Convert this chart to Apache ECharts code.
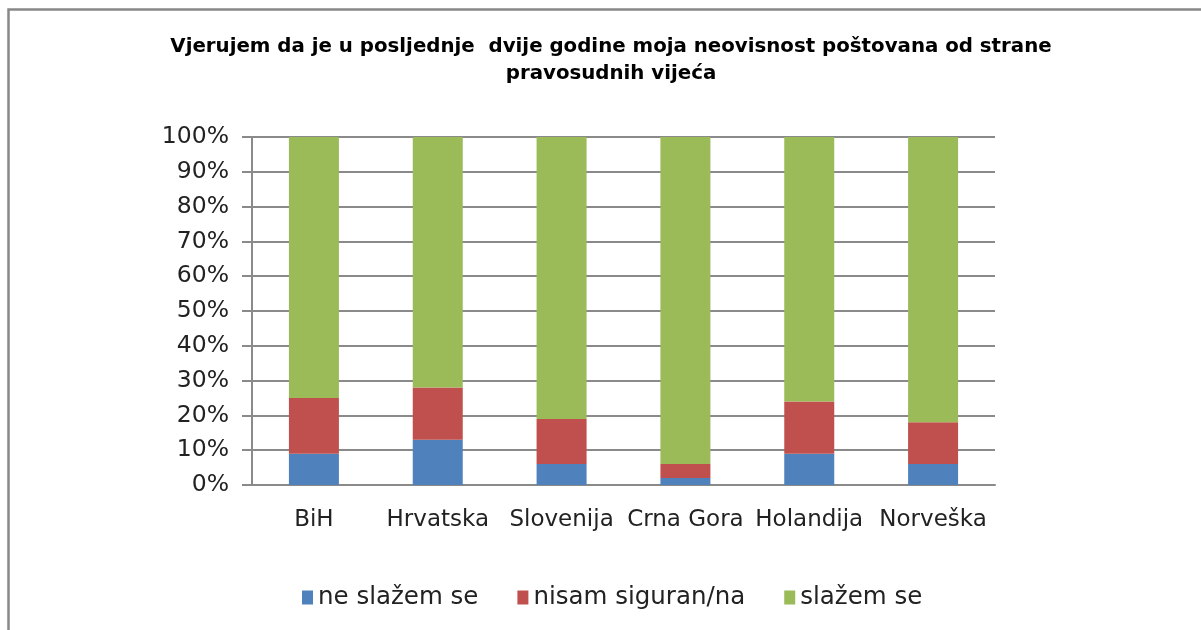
<!DOCTYPE html>
<html>
<head>
<meta charset="utf-8">
<title>Neovisnost poštovana od strane pravosudnih vijeća</title>
<script src="https://cdn.jsdelivr.net/npm/echarts@6/dist/echarts.min.js"></script>
<style>
  html, body { margin: 0; padding: 0; background: #fff; }
  #chart { width: 1201px; height: 630px; }
</style>
</head>
<body>
<div id="chart"></div>
<script>
// podaci očitani sa slike (postoci)
var countries = ['BiH', 'Hrvatska', 'Slovenija', 'Crna Gora', 'Holandija', 'Norveška']
var neSlazem = [9, 13, 6, 2, 9, 6]
var nisamSiguran = [16, 15, 13, 4, 15, 12]
var slazem = [75, 72, 81, 94, 76, 82]
var seriesNames = ['ne slažem se', 'nisam siguran/na', 'slažem se']
var colors = ['#4F81BD', '#C0504D', '#9BBB59']

var chart = echarts.init(document.getElementById('chart'))

var font = 'DejaVu Sans'
var gridColor = '#8a8a8a'

// jedan stupac po seriji, složeni
function barSeries (name, data) {
  return {
    name: name,
    type: 'bar',
    stack: 'total',
    barWidth: 50,
    data: data
  }
}

chart.setOption({
  color: colors,
  animation: false,
  title: {
    text: 'Vjerujem da je u posljednje  dvije godine moja neovisnost poštovana od strane\npravosudnih vijeća',
    left: 606,
    textAlign: 'center',
    top: 28,
    textStyle: {
      fontFamily: font,
      fontWeight: 'bold',
      fontSize: 19.8,
      lineHeight: 27,
      color: '#000'
    }
  },
  // okvir oko grafikona
  graphic: [{
    type: 'rect',
    left: 6,
    top: 7,
    shape: { width: 1220, height: 650 },
    style: { fill: 'none', stroke: '#888', lineWidth: 2.5 },
    silent: true
  }],
  legend: {
    left: 297,
    top: 580,
    itemWidth: 11,
    itemHeight: 14,
    itemGap: 39,
    icon: 'rect',
    textStyle: { fontFamily: font, fontSize: 24.5, color: '#222' },
    data: seriesNames
  },
  grid: {
    left: 252,
    right: 206,
    top: 137,
    bottom: 145
  },
  xAxis: {
    type: 'category',
    data: countries,
    axisLine: { lineStyle: { color: gridColor, width: 2 } },
    axisTick: { length: 9, lineStyle: { color: gridColor, width: 2 } },
    axisLabel: {
      interval: 0,
      hideOverlap: false,
      margin: 24,
      fontFamily: font,
      fontSize: 23,
      color: '#222'
    }
  },
  yAxis: {
    type: 'value',
    min: 0,
    max: 100,
    interval: 10,
    axisLine: { show: true, lineStyle: { color: gridColor, width: 2 } },
    axisTick: { show: true, length: 10, lineStyle: { color: gridColor, width: 2 } },
    splitLine: { lineStyle: { color: gridColor, width: 2 } },
    axisLabel: {
      formatter: '{value}%',
      margin: 23,
      fontFamily: font,
      fontSize: 23.5,
      color: '#222'
    }
  },
  series: [
    barSeries(seriesNames[0], neSlazem),
    barSeries(seriesNames[1], nisamSiguran),
    barSeries(seriesNames[2], slazem)
  ]
})
</script>
</body>
</html>
